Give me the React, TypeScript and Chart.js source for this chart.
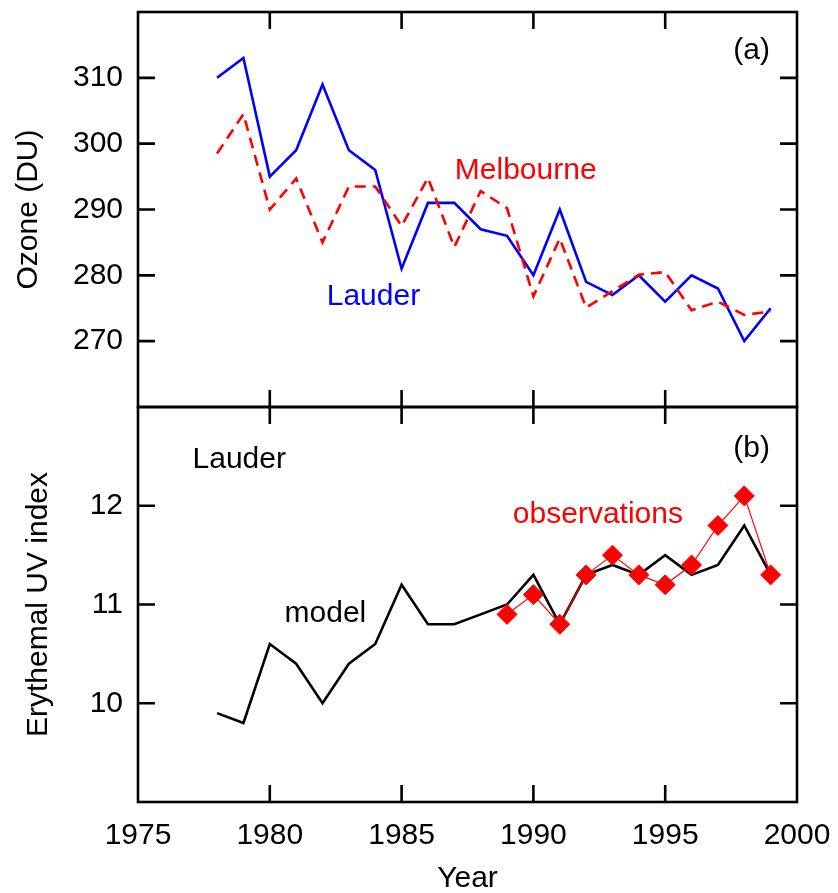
import React, { useEffect, useRef } from "react";
import { Chart, registerables } from "chart.js";

Chart.register(...registerables);

// ---- data ----
const years = [1978, 1979, 1980, 1981, 1982, 1983, 1984, 1985, 1986, 1987, 1988, 1989, 1990, 1991, 1992, 1993, 1994, 1995, 1996, 1997, 1998, 1999];
const lauderOzone = [310, 313, 295, 299, 309, 299, 296, 281, 291, 291, 287, 286, 280, 290, 279, 277, 280, 276, 280, 278, 270, 275];
const melbourneOzone = [298.5, 304.5, 290, 294.7, 285, 293.5, 293.5, 287.5, 294.8, 284.3, 292.8, 290.2, 276.8, 285.6, 275.1, 277.6, 280.1, 280.5, 274.7, 276, 274, 274.5];
const modelUV = [9.9, 9.8, 10.6, 10.4, 10.0, 10.4, 10.6, 11.2, 10.8, 10.8, 10.9, 11.0, 11.3, 10.8, 11.3, 11.4, 11.3, 11.5, 11.3, 11.4, 11.8, 11.3];
const obsYears = [1989, 1990, 1991, 1992, 1993, 1994, 1995, 1996, 1997, 1998, 1999];
const obsUV = [10.9, 11.1, 10.8, 11.3, 11.5, 11.3, 11.2, 11.4, 11.8, 12.1, 11.3];

const xTicks = [1975, 1980, 1985, 1990, 1995, 2000];
const ozoneTicks = [260, 270, 280, 290, 300, 310, 320];
const uvTicks = [9, 10, 11, 12, 13];
const ozoneLabelled = [270, 280, 290, 300, 310];
const uvLabelled = [10, 11, 12];

const FONT = '"Liberation Sans", Arial, Helvetica, sans-serif';
const FS = 30;
const TICK_LEN = 17;

const annotations = [
  { text: "(a)", x: 1997.58, y: 312.8, axis: "yTop", color: "#000000" },
  { text: "Melbourne", x: 1987.02, y: 294.6, axis: "yTop", color: "#ff0000" },
  { text: "Lauder", x: 1982.16, y: 275.45, axis: "yTop", color: "#0000ff" },
  { text: "Lauder", x: 1977.07, y: 12.38, axis: "yBot", color: "#000000" },
  { text: "model", x: 1980.56, y: 10.82, axis: "yBot", color: "#000000" },
  { text: "observations", x: 1989.22, y: 11.83, axis: "yBot", color: "#ff0000" },
  { text: "(b)", x: 1997.58, y: 12.49, axis: "yBot", color: "#000000" },
];

const zeroPad = (s: any) => {
  s.paddingTop = 0;
  s.paddingBottom = 0;
  s.paddingLeft = 0;
  s.paddingRight = 0;
};

const framePlugin = {
  id: "framePlugin",
  afterDraw(chart: any) {
    const ctx = chart.ctx;
    const { left, right } = chart.chartArea;
    const xs = chart.scales.x;
    ctx.save();
    ctx.strokeStyle = "#000000";
    ctx.lineWidth = 2.6;
    ["yTop", "yBot"].forEach((id) => {
      const s = chart.scales[id];
      const top = s.top;
      const bottom = s.bottom;
      ctx.strokeRect(left, top, right - left, bottom - top);
      ctx.beginPath();
      s.ticks.forEach((t: any) => {
        if (t.value <= s.min || t.value >= s.max) return;
        const py = s.getPixelForValue(t.value);
        ctx.moveTo(left, py);
        ctx.lineTo(left + TICK_LEN, py);
        ctx.moveTo(right, py);
        ctx.lineTo(right - TICK_LEN, py);
      });
      xs.ticks.forEach((t: any) => {
        if (t.value <= xs.min || t.value >= xs.max) return;
        const px = xs.getPixelForValue(t.value);
        ctx.moveTo(px, top);
        ctx.lineTo(px, top + TICK_LEN);
        ctx.moveTo(px, bottom);
        ctx.lineTo(px, bottom - TICK_LEN);
      });
      ctx.stroke();
    });
    ctx.font = `${FS}px ${FONT}`;
    ctx.textAlign = "left";
    ctx.textBaseline = "alphabetic";
    annotations.forEach((a) => {
      ctx.fillStyle = a.color;
      ctx.fillText(a.text, xs.getPixelForValue(a.x), chart.scales[a.axis].getPixelForValue(a.y));
    });
    ctx.restore();
  },
};

export default function App() {
  const ref = useRef<HTMLCanvasElement | null>(null);

  useEffect(() => {
    if (!ref.current) return;
    const tickFont = { family: FONT, size: FS };
    const chart = new Chart(ref.current, {
      type: "line",
      data: {
        datasets: [
          {
            label: "Melbourne",
            data: years.map((x, i) => ({ x, y: melbourneOzone[i] })),
            yAxisID: "yTop",
            borderColor: "#ff0000",
            borderWidth: 2.6,
            borderDash: [11, 7],
            pointRadius: 0,
            fill: false,
            tension: 0,
            order: 1,
          },
          {
            label: "Lauder",
            data: years.map((x, i) => ({ x, y: lauderOzone[i] })),
            yAxisID: "yTop",
            borderColor: "#0000ff",
            borderWidth: 2.6,
            pointRadius: 0,
            fill: false,
            tension: 0,
            order: 2,
          },
          {
            label: "observations",
            data: obsYears.map((x, i) => ({ x, y: obsUV[i] })),
            yAxisID: "yBot",
            borderColor: "#ff0000",
            borderWidth: 1.2,
            pointStyle: "rectRot",
            pointRadius: 10,
            pointBackgroundColor: "#ff0000",
            pointBorderColor: "#ff0000",
            pointBorderWidth: 1,
            fill: false,
            tension: 0,
            order: 0,
          },
          {
            label: "model",
            data: years.map((x, i) => ({ x, y: modelUV[i] })),
            yAxisID: "yBot",
            borderColor: "#000000",
            borderWidth: 2.6,
            pointRadius: 0,
            fill: false,
            tension: 0,
            order: 3,
          },
        ],
      },
      options: {
        responsive: false,
        animation: false,
        layout: { padding: { top: 12, right: 41, left: 0, bottom: 0 } },
        plugins: { legend: { display: false }, tooltip: { enabled: false } },
        scales: {
          x: {
            type: "linear",
            position: "bottom",
            min: 1975,
            max: 2000,
            afterBuildTicks: (s: any) => {
              s.ticks = xTicks.map((v) => ({ value: v }));
            },
            grid: { display: false, drawTicks: false },
            border: { display: false },
            ticks: { font: tickFont, color: "#000000", padding: 16, maxRotation: 0, autoSkip: false, callback: (v: any) => String(v) },
            title: { display: true, text: "Year", font: tickFont, color: "#000000", padding: { top: 0, bottom: -4 } },
            afterFit: (s: any) => {
              s.height = 91;
              zeroPad(s);
            },
          },
          yBot: {
            type: "linear",
            position: "left",
            stack: "panels",
            stackWeight: 1,
            min: 9,
            max: 13,
            afterBuildTicks: (s: any) => {
              s.ticks = uvTicks.map((v) => ({ value: v }));
            },
            grid: { display: false, drawTicks: false },
            border: { display: false },
            ticks: {
              font: tickFont,
              color: "#000000",
              padding: 15,
              autoSkip: false,
              callback: (v: any) => (uvLabelled.includes(v) ? String(v) : ""),
            },
            title: { display: true, text: "Erythemal UV index", font: tickFont, color: "#000000", padding: { top: 21, bottom: 0 } },
            afterFit: (s: any) => {
              s.width = 138;
              zeroPad(s);
            },
          },
          yTop: {
            type: "linear",
            position: "left",
            stack: "panels",
            stackWeight: 1,
            min: 260,
            max: 320,
            afterBuildTicks: (s: any) => {
              s.ticks = ozoneTicks.map((v) => ({ value: v }));
            },
            grid: { display: false, drawTicks: false },
            border: { display: false },
            ticks: {
              font: tickFont,
              color: "#000000",
              padding: 15,
              autoSkip: false,
              callback: (v: any) => (ozoneLabelled.includes(v) ? String(v) : ""),
            },
            title: { display: true, text: "Ozone (DU)", font: tickFont, color: "#000000", padding: { top: 11, bottom: 0 } },
            afterFit: (s: any) => {
              s.width = 138;
              zeroPad(s);
            },
          },
        },
      } as any,
      plugins: [framePlugin],
    });
    return () => chart.destroy();
  }, []);

  return (
    <div style={{ position: "absolute", left: 0, top: 0, width: 838, height: 893, background: "#ffffff" }}>
      <canvas ref={ref} width={838} height={893} style={{ display: "block", width: 838, height: 893 }} />
    </div>
  );
}
